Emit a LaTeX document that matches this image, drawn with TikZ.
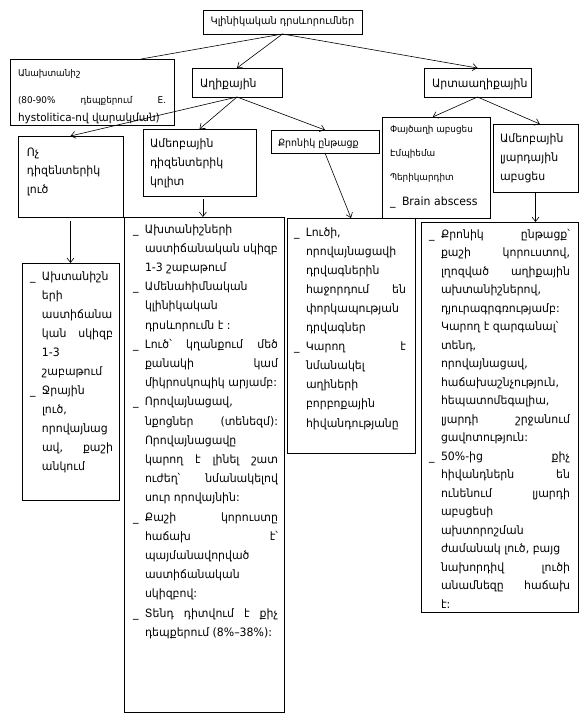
\documentclass[tikz,border=0pt]{standalone}
\usepackage{fontspec}
\setmainfont{DejaVu Sans}[FakeStretch=0.95]
\usetikzlibrary{arrows.meta,calc}
\newlength\tw
\newcommand\bul{\makebox[12pt][l]{\_}}
\newcommand\Ln[1]{\hbox to \tw{\hspace{12pt}#1\hfil}}
\newcommand\Lj[1]{\hbox to \tw{\hspace{12pt}\makebox[\dimexpr\tw-12pt\relax][s]{#1}}}
\newcommand\Bn[1]{\hbox to \tw{\bul#1\hfil}}
\newcommand\Bj[1]{\hbox to \tw{\bul\makebox[\dimexpr\tw-12pt\relax][s]{#1}}}
\newcommand\bx[5]{\node[bxs, anchor=north west, minimum width={#4pt-#2pt}, minimum height={#5pt-#3pt}] (#1) at (#2,#3) {};}
\tikzset{
  bxs/.style={draw=black, line width=0.8pt, inner sep=0pt, outer sep=0pt, fill=none},
  tx/.style={inner sep=0pt, outer sep=0pt, font=\fontsize{11.5}{13}\selectfont},
  sm/.style={tx, font=\fontsize{9.3}{11}\selectfont},
  arr/.style={line width=0.6pt, -{Straight Barb[length=4.5pt,width=7pt]}},
  ln/.style={line width=0.6pt}
}
\begin{document}
\begin{tikzpicture}[x=1pt,y=-1pt]
\fill[white] (0,0) rectangle (588,725);
\useasboundingbox (0,0) rectangle (588,725);
% boxes
\bx{T}{203}{10}{362}{34}
\bx{A0}{10}{59}{174}{125}
\bx{A1}{192}{68}{282}{97}
\bx{A2}{424}{68}{531}{97}
\bx{B1}{18}{136}{123}{217}
\bx{B2}{143}{129}{256}{196}
\bx{B3}{271}{130}{379}{153}
\bx{B4}{382}{117}{490}{218}
\bx{B5}{493}{124}{578}{192}
\bx{C1}{22}{263}{119}{500}
\bx{C2}{124}{217}{284}{712}
\bx{C3}{287}{218}{415}{453}
\bx{C4}{421}{222}{578}{612}
% texts
\node[tx, font=\fontsize{10.3}{12}\selectfont] (tt) at (T) {Կլինիկական դրսևորումներ};
\node[sm, anchor=base west] (a0a) at (18,76) {Անախտանիշ};
\node[sm, anchor=base west] (a0b) at (18,103) {\makebox[148pt][s]{(80-90\% դեպքերում E.}};
\node[tx, anchor=base west, font=\fontsize{11}{13}\selectfont] (a0c) at (18,121) {hystolitica-ով վարակման)};
\node[tx, anchor=base west] (a1t) at (200,87) {Աղիքային};
\node[tx, anchor=base west] (a2t) at (432,87) {Արտաաղիքային};
\node[tx, anchor=base west] (b1t) at (27,156) {\vtop{\baselineskip=18.5pt \hbox{Ոչ}\hbox{դիզենտերիկ}\hbox{լուծ}}};
\node[tx, anchor=base west] (b2t) at (150,147) {\vtop{\baselineskip=19pt \hbox{Ամեոբային}\hbox{դիզենտերիկ}\hbox{կոլիտ}}};
\node[tx, anchor=base west, font=\fontsize{10}{12}\selectfont] (b3t) at (278,146) {Քրոնիկ ընթացք};
\node[sm, anchor=base west] (b4a) at (390,132) {Փայծաղի աբսցես};
\node[sm, anchor=base west] (b4b) at (390,156) {Էմպիեմա};
\node[sm, anchor=base west] (b4c) at (390,180) {Պերիկարդիտ};
\node[tx, anchor=base west] (b4d) at (390,205) {\bul Brain abscess};
\node[tx, anchor=base west] (b5t) at (500,142) {\vtop{\baselineskip=19pt \hbox{Ամեոբային}\hbox{լյարդային}\hbox{աբսցես}}};
\node[tx, anchor=base west] (c1t) at (30,280) {\setlength\tw{83pt}\vtop{\baselineskip=19pt
 \Bn{Ախտանիշն}\Ln{երի}\Ln{աստիճանա}\Lj{կան սկիզբ}\Ln{1-3}\Ln{շաբաթում}
 \Bn{Ջրային}\Ln{լուծ,}\Ln{որովայնաց}\Lj{ավ, քաշի}\Ln{անկում}}};
\node[tx, anchor=base west] (c2t) at (133,233) {\setlength\tw{145pt}\vtop{\baselineskip=19.2pt
 \Bn{Ախտանիշների}\Ln{աստիճանական սկիզբ}\Ln{1-3 շաբաթում}
 \Bn{Ամենահիմնական}\Ln{կլինիկական}\Ln{դրսևորումն է :}
 \Bj{Լուծ՝ կղանքում մեծ}\Lj{քանակի կամ}\Ln{միկրոսկոպիկ արյամբ:}
 \Bn{Որովայնացավ,}\Lj{նքոցներ (տենեզմ):}\Ln{Որովայնացավը}\Lj{կարող է լինել շատ}\Lj{ուժեղ՝ նմանակելով}\Ln{սուր որովայնին:}
 \Bj{Քաշի կորուստը}\Lj{հաճախ է՝}\Ln{պայմանավորված}\Ln{աստիճանական}\Ln{սկիզբով:}
 \Bj{Տենդ դիտվում է քիչ}\Ln{դեպքերում (8\%–38\%):}}};
\node[tx, anchor=base west] (c3t) at (294,236) {\setlength\tw{112pt}\vtop{\baselineskip=19.1pt
 \Bn{Լուծի,}\Ln{որովայնացավի}\Ln{դրվագներին}\Lj{հաջորդում են}\Ln{փորկապության}\Ln{դրվագներ}
 \Bj{Կարող է}\Ln{նմանակել}\Ln{աղիների}\Ln{բորբոքային}\Ln{հիվանդությանը}}};
\node[tx, anchor=base west] (c4t) at (429,238) {\setlength\tw{141pt}\vtop{\baselineskip=18.5pt
 \Bj{Քրոնիկ ընթացք՝}\Lj{քաշի կորուստով,}\Lj{լղոզված աղիքային}\Ln{ախտանիշներով,}\Ln{դյուրագրգռությամբ:}
 \Ln{Կարող է զարգանալ՝}\Ln{տենդ,}\Ln{որովայնացավ,}\Ln{հաճախաշնչություն,}\Ln{հեպատոմեգալիա,}\Lj{լյարդի շրջանում}\Ln{ցավոտություն:}
 \Bj{50\%-ից քիչ}\Lj{հիվանդներն են}\Lj{ունենում լյարդի}\Ln{աբսցեսի}\Ln{ախտորոշման}\Ln{ժամանակ լուծ, բայց}\Lj{նախորդիվ լուծի}\Lj{անամնեզը հաճախ}\Ln{է:}}};
% connectors
\coordinate (a0top) at ($(A0.north west)!0.8!(A0.north east)$);
\coordinate (b4top) at ($(B4.north west)!0.47!(B4.north east)$);
\coordinate (b5top) at ($(B5.north west)!0.55!(B5.north east)$);
\coordinate (b2bot) at ($(B2.south west)!0.53!(B2.south east)$);
\draw[ln] (T.south) -- (a0top);
\draw[arr] (T.south) -- (A1.north);
\draw[arr] (T.south) -- (A2.north);
\draw[arr] (A1.south) -- (B1.north);
\draw[arr] (A1.south) -- (B2.north);
\draw[arr] (A1.south) -- (B3.north);
\draw[arr] (A2.south) -- (b4top);
\draw[arr] (A2.south) -- (b5top);
\draw[arr, shorten <=4pt] (B1.south) -- (C1.north);
\draw[arr, shorten <=3pt] (b2bot) -- (b2bot |- C2.north);
\draw[arr] (B3.south) -- (C3.north);
\draw[arr] (B5.south) -- (B5.south |- C4.north);
\end{tikzpicture}
\end{document}
